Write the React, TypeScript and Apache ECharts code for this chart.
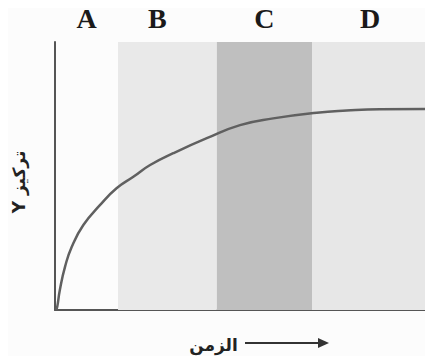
import React, { useEffect, useRef } from "react";
import * as echarts from "echarts";

const timeValues = [0.3, 0.6, 1.3, 2.7, 4.5, 7.6, 12.1, 16.5, 21.0, 25.5, 31.7, 40.7, 49.6, 58.5, 70.2, 78.2, 87.1, 99.7];
const concValues = [0, 1.2, 7.5, 16.2, 23.6, 31.7, 39.2, 45.4, 49.7, 54.1, 58.5, 64.1, 69.0, 71.5, 73.6, 74.4, 74.9, 75.0];

const bandNames = ["A", "B", "C", "D"];
const bandStarts = [0, 16.9, 43.4, 68.9];
const bandEnds = [16.9, 43.4, 68.9, 100];

const xName = "الزمن";
const yName = "Y تركيز";

const bandColors = ["rgba(255,255,255,0)", "#e9e9e9", "#bfbfbf", "#e7e7e7"];
const bandLabelOffsets = [0, -10, 0, 0];

export default function App() {
  const ref = useRef<HTMLDivElement>(null);
  useEffect(() => {
    if (!ref.current) return;
    const chart = echarts.init(ref.current, undefined, { renderer: "svg" });
    const lineData = timeValues.map((t, i) => [t, concValues[i]]);
    const areas = bandNames.map((n, i) => [
      {
        name: n,
        xAxis: bandStarts[i],
        itemStyle: { color: bandColors[i] },
        label: { offset: [bandLabelOffsets[i], 0] },
      },
      { xAxis: bandEnds[i] },
    ]);
    chart.setOption({
      animation: false,
      backgroundColor: "#fcfcfc",
      grid: { left: 55, right: 5, top: 42, bottom: 54, outerBoundsMode: "none", containLabel: false },
      xAxis: {
        type: "value",
        min: 0,
        max: 100,
        axisLine: { show: true, lineStyle: { color: "#555", width: 2 } },
        axisTick: { show: false },
        axisLabel: { show: false },
        splitLine: { show: false },
        name: xName,
        nameLocation: "middle",
        nameGap: 26,
        nameTextStyle: {
          fontFamily: "DejaVu Sans",
          fontWeight: "bold",
          fontSize: 17,
          color: "#222",
          padding: [0, 56, 0, 0],
        },
      },
      yAxis: {
        type: "value",
        min: 0,
        max: 100,
        axisLine: { show: true, lineStyle: { color: "#555", width: 2 } },
        axisTick: { show: false },
        axisLabel: { show: false },
        splitLine: { show: false },
        name: yName,
        nameLocation: "middle",
        nameRotate: 90,
        nameGap: 28,
        nameTextStyle: {
          fontFamily: "DejaVu Sans",
          fontWeight: "bold",
          fontSize: 17,
          color: "#222",
          padding: [0, 12, 0, 0],
        },
      },
      series: [
        {
          type: "line",
          data: lineData,
          smooth: 0.5,
          symbol: "none",
          z: 5,
          lineStyle: { color: "#606060", width: 2.5 },
          markArea: {
            silent: true,
            label: {
              show: true,
              position: "top",
              distance: 10,
              fontFamily: "Liberation Serif",
              fontWeight: "bold",
              fontSize: 28,
              color: "#1a1a1a",
            },
            data: areas,
          },
        },
      ],
      graphic: [
        {
          type: "line",
          shape: { x1: 245, y1: 343, x2: 322, y2: 343 },
          style: { stroke: "#333", lineWidth: 2 },
        },
        {
          type: "polygon",
          shape: { points: [[329, 343], [318, 338], [318, 348]] },
          style: { fill: "#333" },
        },
      ],
    });
    return () => chart.dispose();
  }, []);
  return <div ref={ref} style={{ width: 433, height: 364, margin: -8 }} />;
}
